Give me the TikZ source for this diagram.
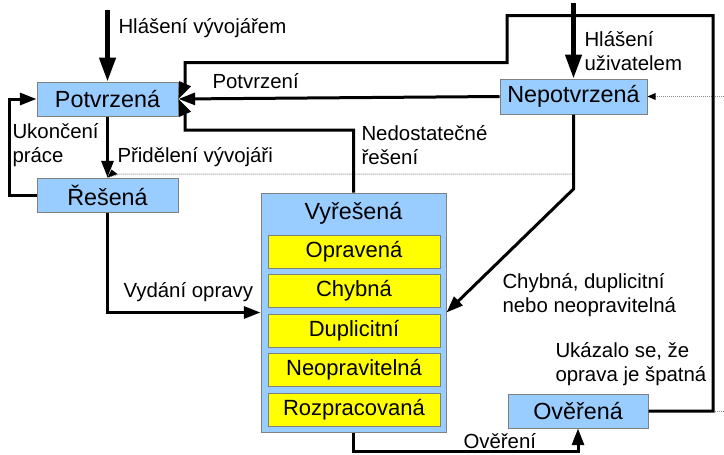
\documentclass[tikz,border=0pt]{standalone}
\usepackage{fontspec}
\setmainfont{Liberation Sans}
\usetikzlibrary{arrows.meta}

\definecolor{stavmodra}{RGB}{153,204,255}
\definecolor{stavzluta}{RGB}{255,255,0}
\definecolor{ramecek}{RGB}{128,128,128}
\definecolor{teckova}{RGB}{140,140,140}

\tikzset{every picture/.style={line width=0.75pt}}
\tikzset{
  stav/.style={draw=ramecek, fill=stavmodra, inner sep=0pt, font=\fontsize{17.5}{21}\selectfont},
  nadpis/.style={inner sep=0pt, font=\fontsize{17.5}{21}\selectfont},
  podstav/.style={draw=ramecek, fill=stavzluta, inner sep=0pt, minimum width=129pt, minimum height=24.75pt, font=\fontsize{16.5}{20}\selectfont},
  popis/.style={anchor=west, inner sep=0.75pt, align=left, font=\fontsize{15.3}{17.6}\selectfont},
  prechod/.style={line width=2.25pt, -{Triangle[length=12.5pt,width=9pt]}},
  hlaseni/.style={line width=3.4pt, -{Triangle[length=18pt,width=12pt]}},
  teckovane/.style={draw=teckova, line width=0.75pt, dash pattern=on 0.75pt off 0.75pt},
}

\begin{document}
\begin{tikzpicture}[x=0.75pt,y=0.75pt,yscale=-1,xscale=1]
\useasboundingbox (0,0) rectangle (724,454);

%Shape: Rectangle [Potvrzena]
\node (pot) [stav, minimum width=105.75pt, minimum height=25.5pt] at (107.5,99) {Potvrzená};
%Shape: Rectangle [Resena]
\node (res) [stav, minimum width=105.75pt, minimum height=25.5pt] at (107.5,195) {Řešená};
%Shape: Rectangle [Nepotvrzena]
\node (nepot) [stav, minimum width=110.25pt, minimum height=26.25pt] at (573.5,96.5) {Nepotvrzená};
%Shape: Rectangle [Overena]
\node (over) [stav, minimum width=105pt, minimum height=25.5pt] at (578,411) {Ověřená};
%Shape: Rectangle [Vyresena]
\node (vyr) [stav, minimum width=138.75pt, minimum height=179.25pt] at (353.5,312.5) {};
\node (vyrt) [nadpis] at (353.5,213) {Vyřešená};
\node (opr) [podstav] at (354,251.5) {Opravená};
\node (chyb) [podstav] at (354,291) {Chybná};
\node (dupl) [podstav] at (354,330.5) {Duplicitní};
\node (neopr) [podstav] at (354,370) {Neopravitelná};
\node (rozpr) [podstav] at (354,409.5) {Rozpracovaná};

%Bend points
\coordinate (zdroj1) at (107.5,10);
\coordinate (zdroj2) at (573.5,3);
\coordinate (pravo) at (713,15.5);
\coordinate (zlom) at (507,62.5);
\coordinate (nadpot) at (185,84);
\coordinate (nedo) at (185,130);
\coordinate (podpot) at (185,114);
\coordinate (vlevo) at (9.5,99);
\coordinate (dole) at (353.5,451);
\coordinate (nepzlom) at (573.5,189);
\coordinate (tecka1) at (573.5,174);
\coordinate (tecka2) at (120,174);
\coordinate (okraj1) at (724,96.5);
\coordinate (okraj2) at (724,411);
\coordinate (roh) at (713,411);

%Dotted Lines
\draw [teckovane] (okraj1) -- (nepot.east);
\fill (nepot.east) -- ++(8,-3.5) -- ++(0,7) -- cycle;
\draw [teckovane] (tecka1) -- (tecka2) -- (res.north);
\fill (res.north) -- ++(4,-8) -- ++(6,4.5) -- cycle;
\draw [teckovane] (roh) -- (okraj2);

%Straight Lines
\draw [hlaseni] (zdroj1) -- (pot);
\draw [hlaseni] (zdroj2) -- (nepot);
\draw [prechod] (pot) -- (res);
\draw [prechod] (res.west) -| (vlevo) -- (pot.west);
\draw [prechod] (nepot.west) -- (pot.east);
\draw [prechod] (over.east) -| (pravo) -| (zlom) -| (nadpot) -- (pot.east);
\draw [prechod] (vyr.north) |- (nedo) -- (podpot) -- (pot.east);
\draw [prechod] (res.south) |- (vyr.west);
\draw [prechod] (nepot.south) -- (nepzlom) -- (vyr.east);
\draw [prechod] (vyr.south) -- (dole) -| (over.south);

% Text Node
\node (hlvyv) [popis] at (117,28) {Hlášení vývojářem};
% Text Node
\node (hluzi) [popis] at (583,51) {Hlášení\\uživatelem};
% Text Node
\node (potvr) [popis] at (211,81) {Potvrzení};
% Text Node
\node (ukon) [popis] at (11,145) {Ukončení\\práce};
% Text Node
\node (prid) [popis] at (116,157) {Přidělení vývojáři};
% Text Node
\node (nedost) [popis] at (360,145) {Nedostatečné\\řešení};
% Text Node
\node (vydani) [popis] at (122,292) {Vydání opravy};
% Text Node
\node (chybdup) [popis] at (501,295) {Chybná, duplicitní\\nebo neopravitelná};
% Text Node
\node (ukazalo) [popis] at (554,364) {Ukázalo se, že\\oprava je špatná};
% Text Node
\node (overeni) [popis] at (462,441) {Ověření};

\end{tikzpicture}
\end{document}
